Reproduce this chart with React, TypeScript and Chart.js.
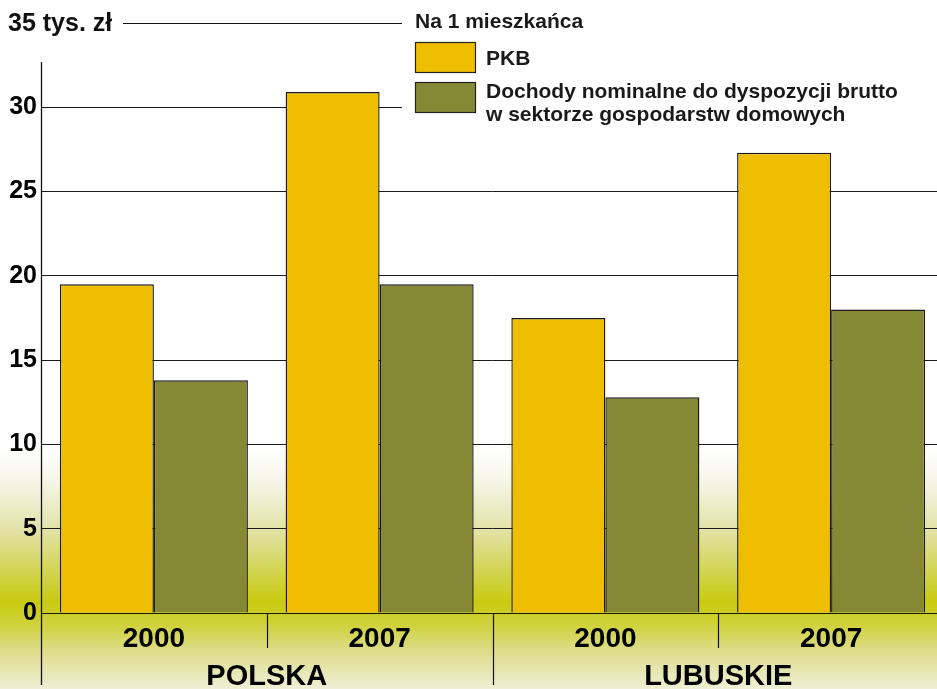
import React, { useEffect, useRef } from "react";
import { Chart, registerables } from "chart.js";

Chart.register(...registerables);

const categories = ["2000", "2007", "2000", "2007"];
const groups = ["POLSKA", "LUBUSKIE"];
const groupSize = 2;
const pkb = [19.5, 30.9, 17.5, 27.3];
const dochody = [13.8, 19.5, 12.8, 18.0];
const seriesNames = [["PKB"], ["Dochody nominalne do dyspozycji brutto", "w sektorze gospodarstw domowych"]];
const seriesColors = ["#F0BE00", "#858936"];
const legendTitle = "Na 1 mieszkańca";
const yMax = 35;
const yStep = 5;
const yUnit = "tys. zł";

const FONT = "'Liberation Sans', Arial, sans-serif";

const decorPlugin = {
  id: "decor",
  beforeDatasetsDraw(chart: any) {
    const ctx = chart.ctx;
    const y = chart.scales.y;
    const area = chart.chartArea;
    ctx.save();
    ctx.strokeStyle = "#111";
    ctx.lineWidth = 1;
    const yTop = Math.round(y.getPixelForValue(yMax)) + 0.5;
    const y30 = Math.round(y.getPixelForValue(yMax - yStep)) + 0.5;
    ctx.beginPath();
    ctx.moveTo(123, yTop);
    ctx.lineTo(402, yTop);
    ctx.moveTo(area.left, y30);
    ctx.lineTo(402, y30);
    ctx.stroke();
    ctx.restore();
  },
  afterDraw(chart: any) {
    const ctx = chart.ctx;
    const x = chart.scales.x;
    const area = chart.chartArea;
    ctx.save();
    ctx.strokeStyle = "#111";
    ctx.lineWidth = 1.3;
    const axX = Math.round(area.left) + 0.5;
    ctx.beginPath();
    ctx.moveTo(axX, 62);
    ctx.lineTo(axX, 685);
    ctx.stroke();
    const band = x.getPixelForValue(1) - x.getPixelForValue(0);
    ctx.lineWidth = 1.2;
    for (let i = 1; i < categories.length; i++) {
      const px = Math.round(x.getPixelForValue(i) - band / 2) + 0.5;
      const long = i % groupSize === 0;
      ctx.beginPath();
      ctx.moveTo(px, area.bottom);
      ctx.lineTo(px, long ? 685 : 648);
      ctx.stroke();
    }
    ctx.fillStyle = "#000";
    ctx.font = `bold 29px ${FONT}`;
    ctx.textAlign = "center";
    ctx.textBaseline = "alphabetic";
    groups.forEach((g, gi) => {
      const first = gi * groupSize;
      const last = first + groupSize - 1;
      const left = x.getPixelForValue(first) - band / 2;
      const right = x.getPixelForValue(last) + band / 2;
      ctx.fillText(g, (left + right) / 2, 685);
    });
    ctx.textAlign = "left";
    ctx.font = `bold 25px ${FONT}`;
    ctx.fillStyle = "#111";
    ctx.fillText(`${yMax} ${yUnit}`, 8, 31);
    ctx.fillStyle = "#1a1a1a";
    ctx.font = `bold 21px ${FONT}`;
    ctx.fillText(legendTitle, 415, 28);
    const boxTops = [42, 82];
    const textBase = [[65], [98, 121]];
    chart.data.datasets.forEach((ds: any, i: number) => {
      ctx.fillStyle = ds.backgroundColor;
      ctx.fillRect(415, boxTops[i], 61, 31);
      ctx.strokeStyle = "#222";
      ctx.lineWidth = 1.2;
      ctx.strokeRect(415.5, boxTops[i] + 0.5, 60, 30);
      ctx.fillStyle = "#1a1a1a";
      ctx.font = `bold 21px ${FONT}`;
      seriesNames[i].forEach((line, li) => {
        ctx.fillText(line, 486, textBase[i][li]);
      });
    });
    ctx.restore();
  },
};

export default function App() {
  const ref = useRef<HTMLCanvasElement>(null);
  useEffect(() => {
    if (!ref.current) return;
    const chart = new Chart(ref.current, {
      type: "bar",
      data: {
        labels: categories,
        datasets: [
          {
            label: seriesNames[0].join(" "),
            data: pkb,
            backgroundColor: seriesColors[0],
            borderColor: "#1a1a1a",
            borderWidth: 1.4,
            categoryPercentage: 0.833,
            barPercentage: 1.0,
          },
          {
            label: seriesNames[1].join(" "),
            data: dochody,
            backgroundColor: seriesColors[1],
            borderColor: "#1a1a1a",
            borderWidth: 1.4,
            categoryPercentage: 0.833,
            barPercentage: 1.0,
          },
        ],
      },
      options: {
        animation: false,
        responsive: false,
        maintainAspectRatio: false,
        layout: { padding: { top: 23, left: 0, right: 1, bottom: 0 } },
        plugins: { legend: { display: false }, tooltip: { enabled: false }, title: { display: false } },
        scales: {
          x: {
            grid: { display: false, drawTicks: false },
            border: { display: false },
            ticks: {
              color: "#000",
              font: { family: FONT, size: 28, weight: "bold" },
              padding: 9,
              maxRotation: 0,
            },
            afterFit: (s: any) => {
              s.height = 76;
            },
          },
          y: {
            min: 0,
            max: yMax,
            ticks: {
              stepSize: yStep,
              color: "#000",
              font: { family: FONT, size: 25, weight: "bold" },
              padding: 4,
              callback: (v: any) => (v === yMax ? "" : String(v)),
            },
            grid: {
              drawTicks: false,
              lineWidth: 1,
              color: (c: any) => {
                const v = c.tick && c.tick.value;
                if (v === yMax || v === yMax - yStep) return "rgba(0,0,0,0)";
                return "#1a1a1a";
              },
            },
            border: { display: false },
            afterFit: (s: any) => {
              s.width = 41;
            },
          },
        },
      },
      plugins: [decorPlugin],
    });
    return () => chart.destroy();
  }, []);

  return (
    <div
      style={{
        position: "absolute",
        left: 0,
        top: 0,
        width: 937,
        height: 689,
        overflow: "hidden",
        background:
          "linear-gradient(to bottom, #ffffff 0px, #ffffff 450px, #f4f4e4 485px, #e2e2a8 530px, #d2d450 572px, #c9cb10 602px, #d0d23c 625px, #dcdc88 650px, #efefd6 689px)",
      }}
    >
      <canvas ref={ref} width={945} height={689} style={{ display: "block", width: 945, height: 689 }} />
    </div>
  );
}
